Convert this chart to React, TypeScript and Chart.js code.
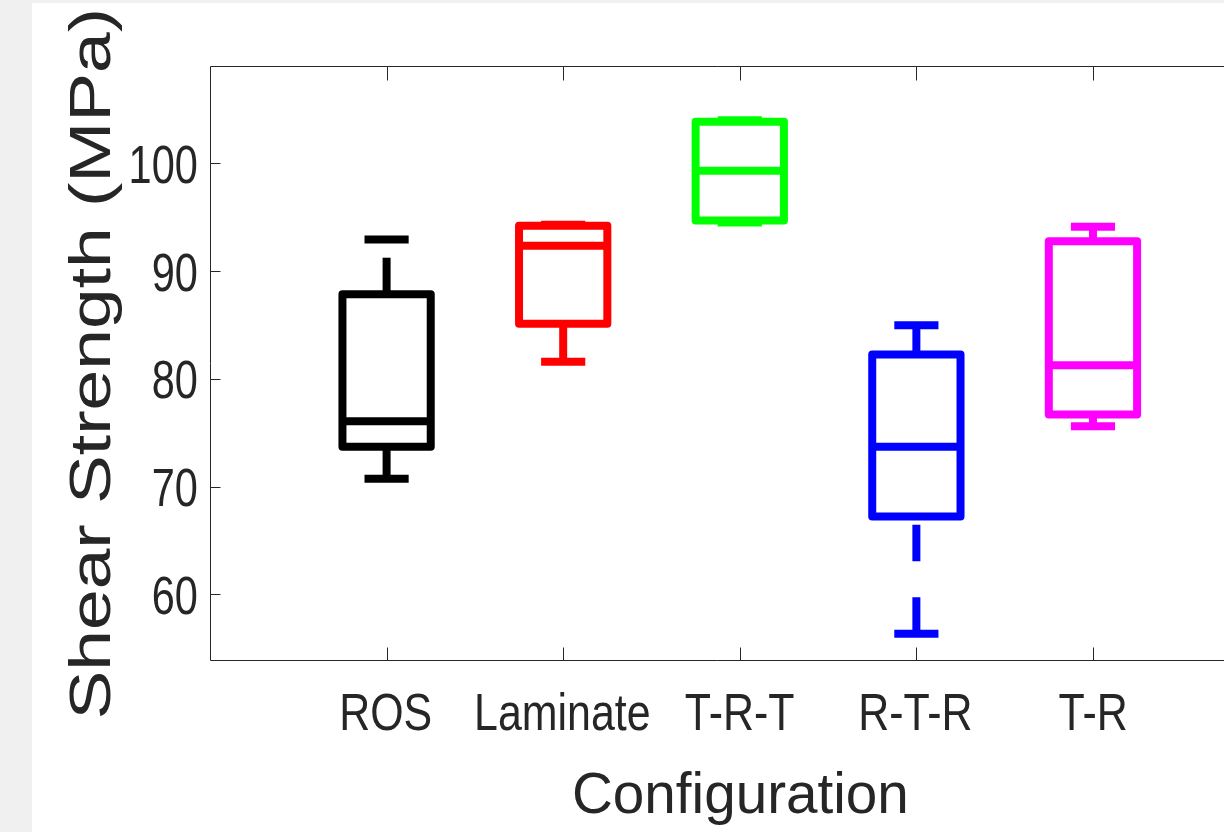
import React, { useEffect, useRef } from 'react';
import { Chart, registerables } from 'chart.js';

Chart.register(...registerables);

// ---- data ----
const categories = ['ROS', 'Laminate', 'T-R-T', 'R-T-R', 'T-R'];
const colors = ['#000000', '#ff0000', '#00ff00', '#0000ff', '#ff00ff'];
const lowerWhisker = [70.73, 81.59, 94.5, 56.33, 75.6];
const q1 = [73.69, 85.1, 94.7, 67.22, 76.68];
const median = [76.07, 92.34, 99.3, 73.7, 81.26];
const q3 = [87.85, 94.2, 103.85, 82.25, 92.77];
const upperWhisker = [92.93, 94.3, 104.0, 84.96, 94.1];
const yTicks = [60, 70, 80, 90, 100];
const yTitle = 'Shear Strength (MPa)';
const xTitle = 'Configuration';

// ---- style constants ----
const BOX_HALF = 0.25;
const CAP_HALF = 0.125;
const LINE_W = 8;
const AXIS_COLOR = '#262626';
const FONT = "'Liberation Sans', Arial, Helvetica, sans-serif";

function buildDatasets() {
  const ds: any[] = [];
  categories.forEach((c, i) => {
    const x = i + 1;
    const base = {
      type: 'line',
      borderColor: colors[i],
      backgroundColor: colors[i],
      borderWidth: LINE_W,
      pointRadius: 0,
      pointHoverRadius: 0,
      fill: false,
      tension: 0,
      clip: false,
      borderCapStyle: 'butt',
      borderJoinStyle: 'round',
    };
    ds.push({
      ...base,
      label: c + ' lower whisker',
      borderDash: [36.5, 36],
      data: [{ x, y: lowerWhisker[i] }, { x, y: q1[i] }],
    });
    ds.push({
      ...base,
      label: c + ' upper whisker',
      borderDash: [36.5, 36],
      data: [{ x, y: q3[i] }, { x, y: upperWhisker[i] }],
    });
    ds.push({
      ...base,
      label: c + ' box',
      data: [
        { x: x - BOX_HALF, y: q1[i] },
        { x: x + BOX_HALF, y: q1[i] },
        { x: x + BOX_HALF, y: q3[i] },
        { x: x - BOX_HALF, y: q3[i] },
        { x: x - BOX_HALF, y: q1[i] },
      ],
    });
    ds.push({
      ...base,
      label: c + ' median',
      data: [{ x: x - BOX_HALF, y: median[i] }, { x: x + BOX_HALF, y: median[i] }],
    });
    ds.push({
      ...base,
      label: c + ' upper cap',
      data: [{ x: x - CAP_HALF, y: upperWhisker[i] }, { x: x + CAP_HALF, y: upperWhisker[i] }],
    });
    ds.push({
      ...base,
      label: c + ' lower cap',
      data: [{ x: x - CAP_HALF, y: lowerWhisker[i] }, { x: x + CAP_HALF, y: lowerWhisker[i] }],
    });
  });
  return ds;
}

function ink(ctx: CanvasRenderingContext2D, t: string) {
  const m = ctx.measureText(t);
  return { l: m.actualBoundingBoxLeft, r: m.actualBoundingBoxRight, w: m.actualBoundingBoxLeft + m.actualBoundingBoxRight };
}

const framePlugin = {
  id: 'matlabFrame',
  beforeDraw(chart: any) {
    const ctx = chart.ctx as CanvasRenderingContext2D;
    ctx.save();
    ctx.fillStyle = '#f0f0f0';
    ctx.fillRect(0, 0, chart.width, chart.height);
    ctx.fillStyle = '#ffffff';
    ctx.fillRect(32, 3, chart.width - 32, chart.height - 3);
    ctx.restore();
  },
  afterDraw(chart: any) {
    const ctx = chart.ctx as CanvasRenderingContext2D;
    const a = chart.chartArea;
    const xs = chart.scales.x;
    const ys = chart.scales.y;
    ctx.save();
    ctx.strokeStyle = AXIS_COLOR;
    ctx.lineWidth = 1;
    const L = Math.round(a.left) + 0.5;
    const T = Math.round(a.top) + 0.5;
    const B = Math.round(a.bottom) + 0.5;
    const R = a.right;
    ctx.beginPath();
    ctx.moveTo(R, T);
    ctx.lineTo(L, T);
    ctx.lineTo(L, B);
    ctx.lineTo(R, B);
    yTicks.forEach((v) => {
      const y = Math.round(ys.getPixelForValue(v)) + 0.5;
      ctx.moveTo(L, y);
      ctx.lineTo(L + 10, y);
    });
    categories.forEach((_, i) => {
      const x = Math.round(xs.getPixelForValue(i + 1)) + 0.5;
      ctx.moveTo(x, B);
      ctx.lineTo(x, B - 13);
      ctx.moveTo(x, T);
      ctx.lineTo(x, T + 14);
    });
    ctx.stroke();

    ctx.fillStyle = AXIS_COLOR;
    ctx.textAlign = 'left';
    ctx.textBaseline = 'alphabetic';

    // y tick labels (condensed)
    ctx.font = `53px ${FONT}`;
    const ySx = 65 / ink(ctx, '100').w;
    yTicks.forEach((v) => {
      const t = String(v);
      const m = ink(ctx, t);
      const y = ys.getPixelForValue(v);
      ctx.save();
      ctx.translate(196.7, y + 19.5);
      ctx.scale(ySx, 1);
      ctx.fillText(t, -m.r, 0);
      ctx.restore();
    });

    // x tick labels (condensed)
    ctx.font = `52px ${FONT}`;
    const xSx = 171.7 / ink(ctx, 'Laminate').w;
    categories.forEach((c, i) => {
      const m = ink(ctx, c);
      const x = xs.getPixelForValue(i + 1);
      ctx.save();
      ctx.translate(x, 730);
      ctx.scale(xSx, 1);
      ctx.fillText(c, -(m.r - m.l) / 2, 0);
      ctx.restore();
    });

    // x title
    ctx.font = `58px ${FONT}`;
    {
      const m = ink(ctx, xTitle);
      const sx = 331.7 / m.w;
      const cx = (xs.getPixelForValue(0) + xs.getPixelForValue(6)) / 2;
      ctx.save();
      ctx.translate(cx, 813.3);
      ctx.scale(sx, 1);
      ctx.fillText(xTitle, -(m.r - m.l) / 2, 0);
      ctx.restore();
    }

    // y title (rotated, stretched along its length)
    {
      const m = ink(ctx, yTitle);
      const sx = 705 / m.w;
      const cy = (a.top + a.bottom) / 2 + 1.5;
      ctx.save();
      ctx.translate(110, cy);
      ctx.rotate(-Math.PI / 2);
      ctx.scale(sx, 1);
      ctx.fillText(yTitle, -(m.r - m.l) / 2, 0);
      ctx.restore();
    }
    ctx.restore();
  },
};

export default function App() {
  const ref = useRef<HTMLCanvasElement | null>(null);
  useEffect(() => {
    if (!ref.current) return;
    const chart = new Chart(ref.current, {
      type: 'line',
      data: { datasets: buildDatasets() },
      options: {
        responsive: false,
        animation: false,
        devicePixelRatio: 1,
        layout: { padding: { left: 210, top: 66, right: 0, bottom: 172 } },
        plugins: { legend: { display: false }, tooltip: { enabled: false } },
        events: [],
        scales: {
          x: { type: 'linear', display: false, min: 0, max: 5.742 },
          y: { type: 'linear', display: false, min: 53.9, max: 109.03 },
        },
      } as any,
      plugins: [framePlugin],
    } as any);
    return () => chart.destroy();
  }, []);
  return (
    <div style={{ position: 'fixed', left: 0, top: 0, width: 1224, height: 832, overflow: 'hidden' }}>
      <canvas ref={ref} width={1224} height={832} style={{ display: 'block' }} />
    </div>
  );
}
